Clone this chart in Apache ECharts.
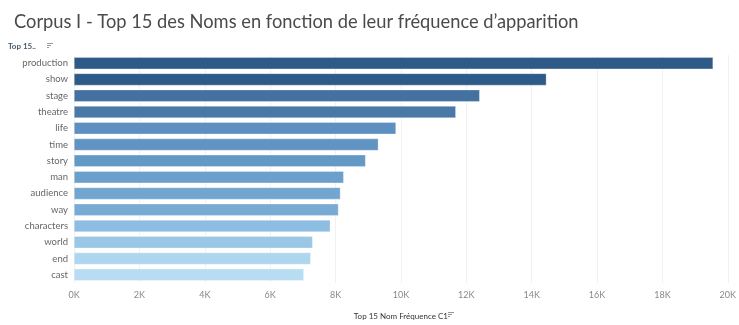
<!DOCTYPE html>
<html>
<head>
<meta charset="utf-8">
<script src="https://cdn.jsdelivr.net/npm/echarts@6/dist/echarts.min.js"></script>
<style>
  html, body { margin: 0; padding: 0; background: #fff; }
  #chart { width: 739px; height: 325px; }
</style>
</head>
<body>
<div id="chart"></div>
<script>
// Top nouns of corpus I, by frequency of occurrence
const categories = ['production', 'show', 'stage', 'theatre', 'life', 'time', 'story', 'man',
  'audience', 'way', 'characters', 'world', 'end', 'cast'];
const frequencies = [19550, 14450, 12410, 11680, 9850, 9310, 8920, 8250,
  8150, 8090, 7840, 7300, 7240, 7030];
const tickValues = [0, 2000, 4000, 6000, 8000, 10000, 12000, 14000, 16000, 18000, 20000];

// Sequential blue shades, darkest for the top row
const shades = ['#2e5a87', '#2e5a87', '#44719f', '#4a79a8', '#5d8fc0', '#6194c3', '#6498c5',
  '#6c9fcc', '#72a5d0', '#78aad3', '#8dbde2', '#9ac7e6', '#afd6ef', '#b8dcf1'];

const font = 'Lato, "Open Sans", sans-serif';
const chart = echarts.init(document.getElementById('chart'), null, { renderer: 'canvas' });

chart.setOption({
  animation: false,
  backgroundColor: '#ffffff',
  title: {
    text: 'Corpus I - Top 15 des Noms en fonction de leur fréquence d’apparition',
    left: 9, top: 8,
    textStyle: { fontFamily: font, fontSize: 18.3, fontWeight: 'normal', color: '#4a4a4a' }
  },
  grid: { left: 74, right: 9, top: 55, bottom: 39, containLabel: false },
  xAxis: {
    type: 'value', min: 0, max: 20000, interval: 2000,
    name: 'Top 15 Nom Fréquence C1',
    nameLocation: 'middle', nameGap: 29,
    nameTextStyle: { fontFamily: font, fontSize: 8, color: '#333' },
    axisLine: { show: false }, axisTick: { show: false },
    axisLabel: {
      fontFamily: font, fontSize: 9, color: '#888', margin: 8,
      customValues: tickValues,
      formatter: v => (v / 1000) + 'K'
    },
    splitLine: { show: true, lineStyle: { color: '#f1f1f1', width: 1 } }
  },
  yAxis: {
    type: 'category', data: categories, inverse: true,
    axisLine: { show: false }, axisTick: { show: false },
    axisLabel: { fontFamily: font, fontSize: 9.5, color: '#666', margin: 6 },
    splitLine: { show: false }
  },
  series: [{
    type: 'bar',
    data: frequencies,
    barWidth: 12,
    itemStyle: {
      color: p => shades[p.dataIndex],
      borderColor: 'rgba(255,255,255,0.6)', borderWidth: 0.5
    }
  }],
  graphic: [
    { type: 'text', left: 8, top: 42,
      style: { text: 'Top 15..', font: 'bold 8px ' + font, fill: '#4a5a6a' } },
    // small sort glyphs next to the headers
    { type: 'group', left: 47, top: 43, children: [
      { type: 'rect', shape: { x: 0, y: 0, width: 6, height: 1 }, style: { fill: '#999' } },
      { type: 'rect', shape: { x: 0, y: 2, width: 4, height: 1 }, style: { fill: '#999' } },
      { type: 'rect', shape: { x: 0, y: 4, width: 2, height: 1 }, style: { fill: '#999' } }
    ]},
    { type: 'group', left: 448, top: 312, children: [
      { type: 'rect', shape: { x: 0, y: 0, width: 6, height: 1 }, style: { fill: '#999' } },
      { type: 'rect', shape: { x: 0, y: 2, width: 4, height: 1 }, style: { fill: '#999' } },
      { type: 'rect', shape: { x: 0, y: 4, width: 2, height: 1 }, style: { fill: '#999' } }
    ]}
  ]
});
</script>
</body>
</html>
